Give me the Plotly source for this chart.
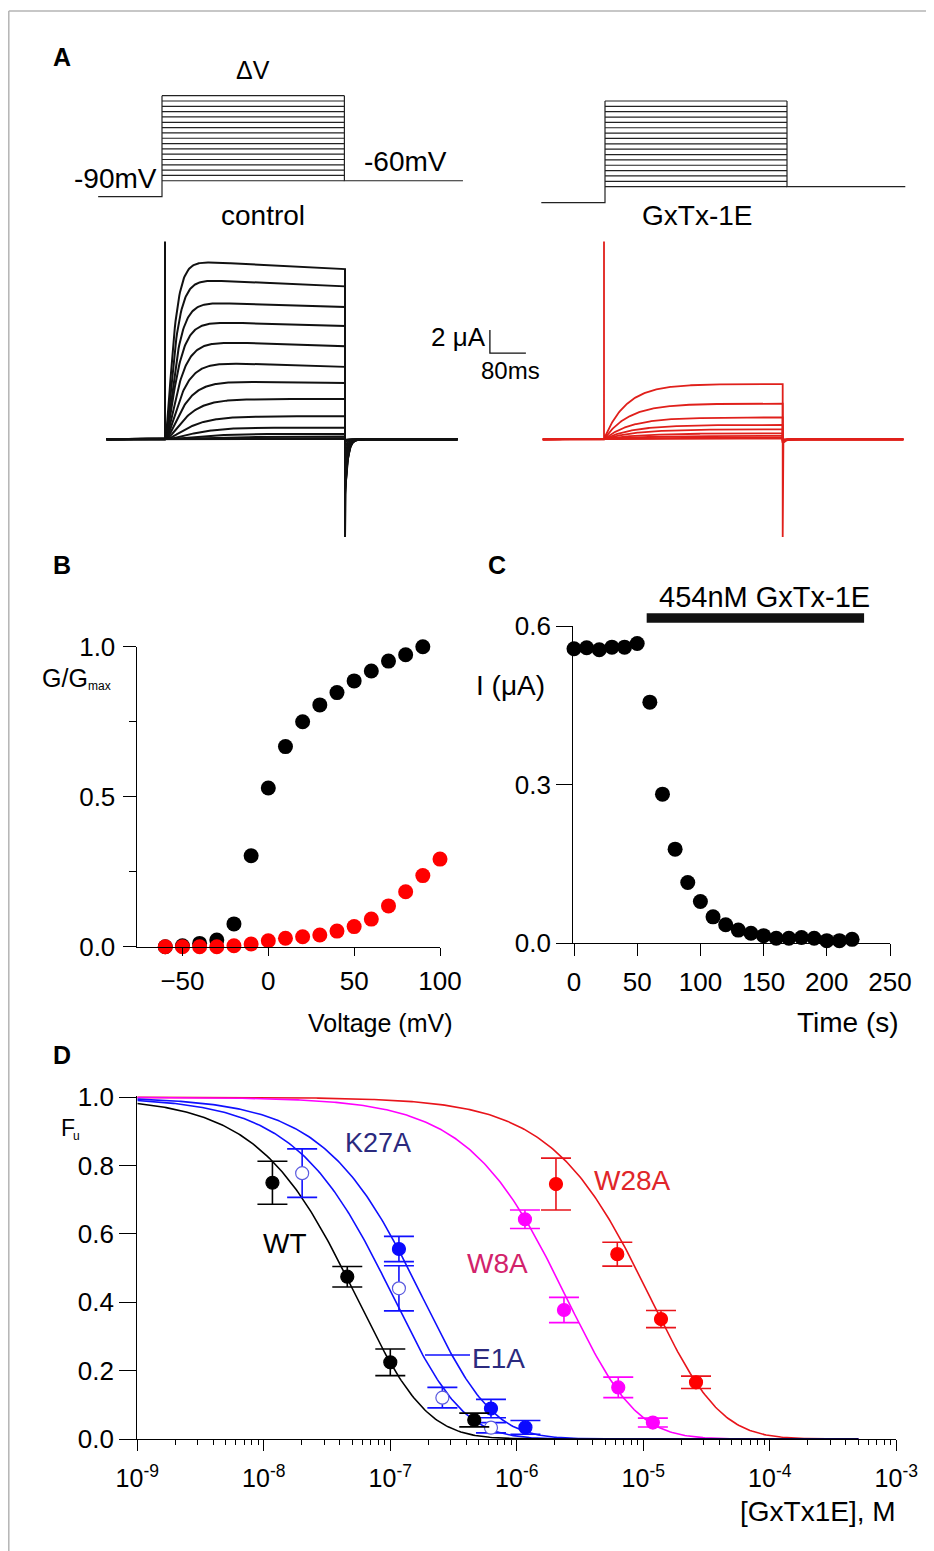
import numpy as np
import plotly.graph_objects as go

W, H = 934, 1551          # browser window
OFF = 8                   # page body margin offset
FW, FH = W - OFF, H - OFF # figure size
FONT = "Liberation Sans, Arial, sans-serif"

# ---------------- data ----------------
# Panel A : voltage protocol (mV) and times (ms)
HOLD_V = -90
TAIL_V = -60
STEP_V = list(range(-60, 101, 10))
PROT_T = [-140, 0, 400, 660]          # start, pulse on, pulse off, end
PULSE_MS = 400

# control current sweeps (uA): early peak, end-of-pulse level, activation tau (ms), tail amplitude
CTRL_PEAK = [15.6, 14.0, 12.0, 10.3, 8.6, 6.8, 5.1, 3.5, 2.0, 1.1, 0.55, 0.25, 0.10, 0.03]
CTRL_END = [14.8, 13.3, 11.5, 9.85, 8.1, 6.3, 4.9, 3.5, 2.0, 1.0, 0.46, 0.24, 0.10, 0.03]
CTRL_TAU = [14, 16, 18, 20, 23, 26, 30, 35, 42, 55, 70, 90, 110, 130]
CTRL_TAIL = [-5.0, -4.8, -4.6, -4.3, -4.0, -3.6, -3.1, -2.6, -2.0, -1.3, -0.7, -0.3, -0.1, -0.05]

# GxTx-1E current sweeps (uA)
GX_END = [4.8, 3.1, 1.9, 1.25, 0.87, 0.52, 0.30, 0.15, 0.07]
GX_TAU = [50, 55, 60, 65, 70, 80, 90, 100, 110]
GX_TAIL = [-0.4, -0.3, -0.2, -0.15, -0.1, -0.08, -0.05, -0.03, -0.02]

SPIKE_ON = 17.2
SPIKE_OFF = -8.5
SCALE_I = 2     # uA
SCALE_T = 80    # ms

# Panel B : G/Gmax vs voltage
B_V_CTRL = [-60, -50, -40, -30, -20, -10, 0, 10, 20, 30, 40, 50, 60, 70, 80, 90]
B_G_CTRL = [0.0, 0.003, 0.011, 0.022, 0.076, 0.303, 0.529, 0.667, 0.750, 0.806,
            0.847, 0.886, 0.919, 0.952, 0.973, 1.0]
B_V_GX = [-60, -50, -40, -30, -20, -10, 0, 10, 20, 30, 40, 50, 60, 70, 80, 90, 100]
B_G_GX = [0.0, 0.0, 0.0, 0.0, 0.003, 0.009, 0.020, 0.028, 0.033, 0.039, 0.052,
          0.067, 0.092, 0.136, 0.183, 0.237, 0.292]

# Panel C : current vs time
C_T = [0, 10, 20, 30, 40, 50, 60, 70, 80, 90, 100, 110, 120, 130, 140, 150,
       160, 170, 180, 190, 200, 210, 220]
C_I = [0.557, 0.559, 0.555, 0.560, 0.560, 0.567, 0.456, 0.282, 0.178, 0.115,
       0.079, 0.050, 0.035, 0.025, 0.019, 0.0145, 0.0095, 0.0095, 0.011, 0.0095,
       0.005, 0.005, 0.0075]
C_BAR = [57.5, 229.5]

# Panel D : fraction unbound vs [GxTx1E]
WT_X = [1.17e-8, 4.57e-8, 1.0e-7, 4.61e-7]
WT_F = [0.750, 0.475, 0.2245, 0.0556]
WT_E = [0.063, 0.030, 0.039, 0.020]
E1A_X = [2.01e-8, 1.17e-7, 2.58e-7, 6.25e-7]
E1A_F = [0.778, 0.441, 0.121, 0.033]
E1A_E = [0.071, 0.066, 0.030, 0.015]
K27A_X = [1.17e-7, 6.25e-7, 1.17e-6]
K27A_F = [0.556, 0.089, 0.034]
K27A_E = [0.037, 0.027, 0.020]
W8A_X = [1.16e-6, 2.36e-6, 6.34e-6, 1.19e-5]
W8A_F = [0.643, 0.3775, 0.151, 0.048]
W8A_E = [0.027, 0.037, 0.030, 0.013]
W28A_X = [2.04e-6, 6.23e-6, 1.38e-5, 2.61e-5]
W28A_F = [0.746, 0.541, 0.351, 0.166]
W28A_E = [0.076, 0.035, 0.025, 0.018]
KD = {"WT": 2.2e-7, "E1A": 4.3e-7, "K27A": 7.3e-7, "W8A": 1.0e-5, "W28A": 4.6e-5}
D_TICKS = [-9, -8, -7, -6, -5, -4, -3]


# ---------------- helpers (all pixel inputs are window pixels) ----------------
def fx(p):
    return (p - OFF) / FW


def fy(p):
    return 1 - (p - OFF) / FH


def xmap(p_lo, p_hi, p0, v0, p1, v1):
    k = (v1 - v0) / (p1 - p0)
    return [fx(p_lo), fx(p_hi)], [v0 + (p_lo - p0) * k, v0 + (p_hi - p0) * k]


def ymap(p_top, p_bot, p0, v0, p1, v1):
    k = (v1 - v0) / (p1 - p0)
    return [fy(p_bot), fy(p_top)], [v0 + (p_bot - p0) * k, v0 + (p_top - p0) * k]


def sweep(peak, end, tau, tail, power, t_pre, t_post, spikes):
    tp = np.linspace(0, PULSE_MS, 240)
    env = peak + (end - peak) * tp / PULSE_MS
    ip = env * (1 - np.exp(-tp / tau)) ** power
    tt = np.concatenate([np.linspace(0, 45, 90), [t_post - PULSE_MS]])
    it = tail * np.exp(-tt / 6.0)
    x = [t_pre, 0.0]
    y = [0.0, 0.0]
    if spikes:
        x += [0.0, 0.0]
        y += [SPIKE_ON, 0.0]
    x += list(tp)
    y += list(ip)
    if spikes:
        x += [PULSE_MS, PULSE_MS]
        y += [SPIKE_OFF, tail]
    x += list(PULSE_MS + tt)
    y += list(it)
    return x, y


def protocol():
    x = [PROT_T[0], PROT_T[1], PROT_T[1], None]
    y = [HOLD_V, HOLD_V, max(STEP_V), None]
    for v in STEP_V:
        x += [PROT_T[1], PROT_T[2], None]
        y += [v, v, None]
    x += [PROT_T[2], PROT_T[2], PROT_T[3]]
    y += [max(STEP_V), TAIL_V, TAIL_V]
    return x, y


def ann(text, xp, yp, size=25, color="black", xanchor="center", bold=False):
    if bold:
        text = "<b>" + text + "</b>"
    return dict(text=text, x=fx(xp), y=fy(yp), xref="paper", yref="paper",
                xanchor=xanchor, yanchor="middle", showarrow=False,
                font=dict(family=FONT, size=size, color=color))


fig = go.Figure()
hidden = dict(visible=False, showgrid=False, zeroline=False, fixedrange=True, automargin=False)

# ---------------- Panel A ----------------
px, py = protocol()
fig.add_trace(go.Scatter(x=px, y=py, mode="lines", line=dict(color="#222", width=1.2),
                         xaxis="x", yaxis="y", hoverinfo="skip"))
fig.add_trace(go.Scatter(x=px, y=py, mode="lines", line=dict(color="#222", width=1.2),
                         xaxis="x2", yaxis="y2", hoverinfo="skip"))
xd1, xr1 = xmap(92, 470, 162, 0, 344.4, 400)
yd1, yr1 = ymap(90, 202, 196.7, HOLD_V, 95.7, max(STEP_V))
xd2, xr2 = xmap(535, 912, 605, 0, 787, 400)
yd2, yr2 = ymap(95, 208, 202.7, HOLD_V, 101, max(STEP_V))

for i in range(len(CTRL_END)):
    sx, sy = sweep(CTRL_PEAK[i], CTRL_END[i], CTRL_TAU[i], CTRL_TAIL[i], 2, -130, 650, i == 0)
    fig.add_trace(go.Scatter(x=sx, y=sy, mode="lines", line=dict(color="#111", width=2),
                             xaxis="x3", yaxis="y3", hoverinfo="skip"))
# scale bar
fig.add_trace(go.Scatter(x=[722, 722, 722 + SCALE_T], y=[7.5 + SCALE_I, 7.5, 7.5], mode="lines",
                         line=dict(color="#111", width=1.3), xaxis="x3", yaxis="y3", hoverinfo="skip"))
for i in range(len(GX_END)):
    sx, sy = sweep(GX_END[i], GX_END[i], GX_TAU[i], GX_TAIL[i], 1, -137, 670, i == 0)
    fig.add_trace(go.Scatter(x=sx, y=sy, mode="lines", line=dict(color="#e0201b", width=1.8),
                             xaxis="x4", yaxis="y4", hoverinfo="skip"))

xd3, xr3 = xmap(100, 535, 165, 0, 345, 400)
yd3, yr3 = ymap(236, 540, 439.3, 0, 416.3, SCALE_I)
xd4, xr4 = xmap(538, 910, 604, 0, 782.7, 400)
yd4, yr4 = yd3, yr3

# ---------------- Panel B ----------------
fig.add_trace(go.Scatter(x=B_V_CTRL, y=B_G_CTRL, mode="markers", cliponaxis=False,
                         marker=dict(color="black", size=15), xaxis="x5", yaxis="y5"))
fig.add_trace(go.Scatter(x=B_V_GX, y=B_G_GX, mode="markers", cliponaxis=False,
                         marker=dict(color="#ff0000", size=15), xaxis="x5", yaxis="y5"))
xd5, xr5 = xmap(136.7, 440, 268.3, 0, 440, 100)
yd5, yr5 = ymap(646.7, 946.7, 946.7, 0, 646.7, 1)

# ---------------- Panel C ----------------
fig.add_trace(go.Scatter(x=C_T, y=C_I, mode="markers", cliponaxis=False,
                         marker=dict(color="black", size=15), xaxis="x6", yaxis="y6"))
xd6, xr6 = xmap(573.3, 890, 574, 0, 890, 250)
yd6, yr6 = ymap(626, 943.3, 943.3, 0, 626, 0.6)

# ---------------- Panel D ----------------
lx = np.linspace(-9, -3.3, 400)
cx = 10 ** lx
curve_cols = {"WT": "black", "E1A": "#1010ff", "K27A": "#1010ff", "W8A": "#ff00ff", "W28A": "#e8141b"}
for key in ["W28A", "W8A", "K27A", "E1A", "WT"]:
    fu = (1 + cx / KD[key]) ** -4
    fig.add_trace(go.Scatter(x=cx, y=fu, mode="lines", line=dict(color=curve_cols[key], width=1.6),
                             xaxis="x7", yaxis="y7", hoverinfo="skip"))


def pts(xs, fs, es, col, fill, line_col=None):
    return go.Scatter(x=xs, y=fs, mode="markers", cliponaxis=False,
                      error_y=dict(type="data", array=es, visible=True, color=col, thickness=1.6, width=15),
                      marker=dict(color=fill, size=13, line=dict(color=line_col or fill, width=1.2)),
                      xaxis="x7", yaxis="y7")


fig.add_trace(pts(W28A_X, W28A_F, W28A_E, "#e8141b", "#ff0000"))
fig.add_trace(pts(W8A_X, W8A_F, W8A_E, "#ff00ff", "#ff00ff"))
fig.add_trace(pts(E1A_X, E1A_F, E1A_E, "#1010ff", "white", "#5a5adf"))
fig.add_trace(pts(K27A_X, K27A_F, K27A_E, "#1010ff", "#0a0aff"))
fig.add_trace(pts(WT_X, WT_F, WT_E, "black", "black"))
xd7, xr7 = xmap(137.3, 896.3, 137.3, -9, 896.3, -3)
yd7, yr7 = ymap(1096, 1439, 1439, 0, 1097.3, 1)

tickfont = dict(family=FONT, size=26, color="black")
ax_common = dict(showline=True, linecolor="black", linewidth=1.3, ticks="outside",
                 tickcolor="black", tickwidth=1.3, showgrid=False, zeroline=False,
                 fixedrange=True, automargin=False)

minor_d = [k * 10.0 ** e for e in range(-9, -3) for k in range(2, 10)]

fig.update_layout(
    width=FW, height=FH, margin=dict(l=0, r=0, t=0, b=0, pad=0, autoexpand=False), showlegend=False,
    paper_bgcolor="white", plot_bgcolor="white", font=dict(family=FONT, color="black"),
    xaxis=dict(domain=xd1, range=xr1, anchor="y", **hidden),
    yaxis=dict(domain=yd1, range=yr1, anchor="x", **hidden),
    xaxis2=dict(domain=xd2, range=xr2, anchor="y2", **hidden),
    yaxis2=dict(domain=yd2, range=yr2, anchor="x2", **hidden),
    xaxis3=dict(domain=xd3, range=xr3, anchor="y3", **hidden),
    yaxis3=dict(domain=yd3, range=yr3, anchor="x3", **hidden),
    xaxis4=dict(domain=xd4, range=xr4, anchor="y4", **hidden),
    yaxis4=dict(domain=yd4, range=yr4, anchor="x4", **hidden),
    xaxis5=dict(domain=xd5, range=xr5, anchor="y5", tickvals=[-50, 0, 50, 100],
                ticklen=8, ticklabelstandoff=3, tickfont=tickfont, **ax_common),
    yaxis5=dict(domain=yd5, range=yr5, anchor="x5", tickvals=[0, 0.5, 1.0],
                ticktext=["0.0", "0.5", "1.0"], ticklen=13, ticklabelstandoff=2, tickfont=tickfont,
                minor=dict(tickvals=[0.25, 0.75], ticklen=7, ticks="outside", tickcolor="black", tickwidth=1.3),
                **ax_common),
    xaxis6=dict(domain=xd6, range=xr6, anchor="y6", tickvals=[0, 50, 100, 150, 200, 250],
                ticklen=12, ticklabelstandoff=3, tickfont=tickfont, **ax_common),
    yaxis6=dict(domain=yd6, range=yr6, anchor="x6", tickvals=[0, 0.3, 0.6],
                ticktext=["0.0", "0.3", "0.6"], ticklen=16, ticklabelstandoff=0, tickfont=tickfont,
                **ax_common),
    xaxis7=dict(domain=xd7, range=xr7, type="log", anchor="y7",
                tickvals=[10.0 ** e for e in D_TICKS],
                ticktext=["10<sup>%d</sup>" % e for e in D_TICKS],
                ticklen=11, ticklabelstandoff=6, tickfont=dict(family=FONT, size=25, color="black"),
                minor=dict(tickvals=minor_d, ticklen=5, ticks="outside", tickcolor="black", tickwidth=1.2),
                **ax_common),
    yaxis7=dict(domain=yd7, range=yr7, anchor="x7", tickvals=[0, 0.2, 0.4, 0.6, 0.8, 1.0],
                ticktext=["0.0", "0.2", "0.4", "0.6", "0.8", "1.0"], ticklen=17,
                ticklabelstandoff=0, tickfont=tickfont, **ax_common),
)

# drug application bar (panel C)
fig.add_shape(type="rect", xref="x6", yref="paper", x0=C_BAR[0], x1=C_BAR[1],
              y0=fy(622.7), y1=fy(613.3), fillcolor="#111", line=dict(width=0))
# E1A leader line
fig.add_shape(type="line", xref="paper", yref="paper", x0=fx(425), x1=fx(470),
              y0=fy(1355), y1=fy(1355), line=dict(color="#1010ff", width=1.5))
# frame
fig.add_shape(type="line", xref="paper", yref="paper", x0=0.8 / FW, x1=1, y0=fy(11), y1=fy(11),
              line=dict(color="#b4b4b4", width=1.5))
fig.add_shape(type="line", xref="paper", yref="paper", x0=0.8 / FW, x1=0.8 / FW, y0=0, y1=fy(11),
              line=dict(color="#b4b4b4", width=1.5))

annots = [
    ann("A", 62, 57, 25, bold=True),
    ann("B", 62, 565, 25, bold=True),
    ann("C", 497, 565, 25, bold=True),
    ann("D", 62, 1055, 25, bold=True),
    ann("ΔV", 253, 70, 25),
    ann("-90mV", 115.5, 178, 28),
    ann("-60mV", 405.5, 161.7, 28),
    ann("control", 263, 215, 28),
    ann("GxTx-1E", 697, 215, 28),
    ann("2 μA", 488, 337, 26, xanchor="right"),
    ann("80ms", 510, 370, 24),
    ann("G/G", 40, 678, 25, xanchor="left"),
    ann("max", 86, 686, 12, xanchor="left"),
    ann("Voltage (mV)", 380, 1023, 25),
    ann("454nM GxTx-1E", 764, 597, 29),
    ann("I (μA)", 474, 685, 28, xanchor="left"),
    ann("Time (s)", 847.5, 1023, 28),
    ann("F", 59, 1128, 23, xanchor="left"),
    ann("u", 71, 1136, 12, xanchor="left"),
    ann("K27A", 377.5, 1143, 27, color="#2b2a7e"),
    ann("WT", 285, 1243, 28),
    ann("W8A", 497, 1263, 28, color="#d2236b"),
    ann("W28A", 632.5, 1180, 28, color="#e0262a"),
    ann("E1A", 498.5, 1358, 28, color="#2b2a7e"),
    ann("[GxTx1E], M", 818, 1511, 28),
]
fig.update_layout(annotations=annots)

fig.write_html("out.html")
